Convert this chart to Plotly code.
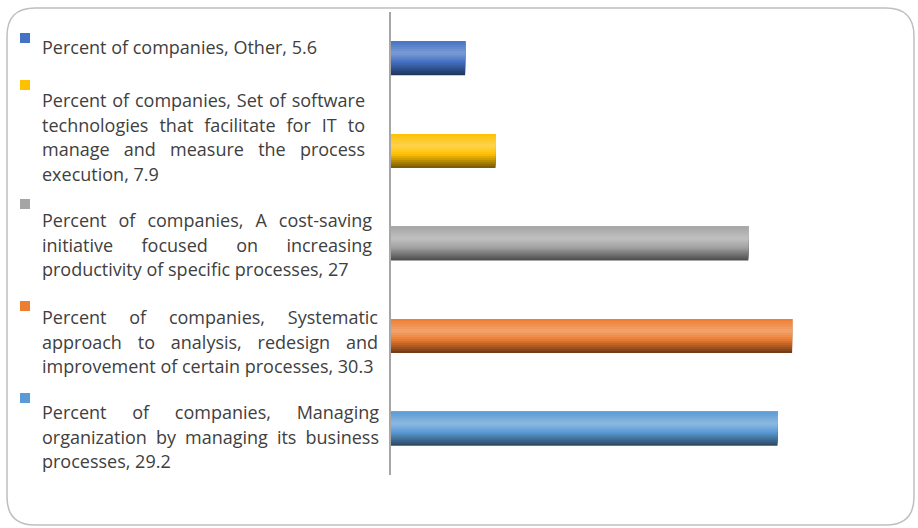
import json
import plotly.graph_objects as go

# data, bottom-to-top order as plotly draws categories
categories = ["Managing", "Systematic", "Cost-saving", "Software", "Other"]
values = [29.2, 30.3, 27, 7.9, 5.6]
colors = ["#5B9BD5", "#ED7D31", "#A5A5A5", "#FFC000", "#4472C4"]

# legend text blocks, top-to-bottom, already broken into lines as in the picture
legend_lines = [
    ["Percent of companies, Other, 5.6"],
    ["Percent of companies, Set of software",
     "technologies that facilitate for IT to",
     "manage and measure the process",
     "execution, 7.9"],
    ["Percent of companies, A cost-saving",
     "initiative focused on increasing",
     "productivity of specific processes, 27"],
    ["Percent of companies, Systematic",
     "approach to analysis, redesign and",
     "improvement of certain processes, 30.3"],
    ["Percent of companies, Managing",
     "organization by managing its business",
     "processes, 29.2"],
]
legend_colors = colors[::-1]

W, H = 918, 528
L, R, T, B = 391, 24, 12, 53
PW, PH = W - L - R, H - T - B
XMAX = 38.0


def px(x):
    return (x - L) / PW


def py(y):
    return (H - B - y) / PH


def mix(c, other, f):
    c = [int(c[i:i + 2], 16) for i in (1, 3, 5)]
    return "rgb(%d,%d,%d)" % tuple(round(a + (b - a) * f) for a, b in zip(c, other))


def shade(c, t):
    # t=0 top of bar, t=1 bottom
    if t < 0.35:
        return mix(c, (255, 255, 255), 0.3 * t / 0.35)
    if t < 0.6:
        return mix(c, (255, 255, 255), 0.3 * (0.6 - t) / 0.25)
    return mix(c, (0, 0, 0), 0.55 * (t - 0.6) / 0.4)


fig = go.Figure()
bw = 0.367
N = 17
step_b = bw / N
for i in range(N):
    # each band reaches to the top of the bar; later bands cover the upper part
    t = 1 - (i + 0.5) / N
    fig.add_trace(go.Bar(
        y=categories, x=values, orientation="h",
        width=bw - i * step_b, offset=-bw / 2 + i * step_b,
        marker=dict(color=[shade(c, t) for c in colors], line=dict(width=0)),
        hoverinfo="skip", showlegend=False,
    ))

shapes = []
annotations = []
justify = {}
first_line = [47, 100, 220, 317, 412]
square_top = [33, 80, 199, 301, 393]
right_edge = [None, 365, 372, 378, 379]
step = 24.5
for k, lines in enumerate(legend_lines):
    shapes.append(dict(type="rect", xref="paper", yref="paper",
                       x0=px(20), x1=px(30), y0=py(square_top[k]), y1=py(square_top[k] + 10),
                       fillcolor=legend_colors[k], line=dict(width=0)))
    for j, line in enumerate(lines):
        annotations.append(dict(text=line, xref="paper", yref="paper",
                                x=px(40), y=py(first_line[k] + j * step),
                                xanchor="left", yanchor="middle", align="left",
                                showarrow=False,
                                font=dict(family="Open Sans", size=18, color="#404040")))
        if right_edge[k] and j < len(lines) - 1:
            justify[line] = right_edge[k] - 42

# rounded outer border
x0, x1, y0, y1, r = 7, 914, 8, 525, 28
path = "M %f,%f L %f,%f Q %f,%f %f,%f L %f,%f Q %f,%f %f,%f L %f,%f Q %f,%f %f,%f L %f,%f Q %f,%f %f,%f Z" % (
    px(x0 + r), py(y0), px(x1 - r), py(y0), px(x1), py(y0), px(x1), py(y0 + r),
    px(x1), py(y1 - r), px(x1), py(y1), px(x1 - r), py(y1),
    px(x0 + r), py(y1), px(x0), py(y1), px(x0), py(y1 - r),
    px(x0), py(y0 + r), px(x0), py(y0), px(x0 + r), py(y0))
shapes.append(dict(type="path", xref="paper", yref="paper", path=path,
                   line=dict(color="#bfbfbf", width=1.5)))

fig.update_layout(
    width=W, height=H, barmode="overlay",
    margin=dict(l=L, r=R, t=T, b=B),
    paper_bgcolor="white", plot_bgcolor="white",
    xaxis=dict(range=[0, XMAX], showgrid=False, zeroline=False, showticklabels=False,
               showline=False, ticks=""),
    yaxis=dict(showgrid=False, zeroline=False, showticklabels=False, ticks="",
               showline=True, linecolor="#a6a6a6", linewidth=2),
    shapes=shapes, annotations=annotations, hovermode=False,
)

post = """
document.body.style.margin = '0';
var gd = document.getElementById('{plot_id}');
var targets = %s;
function justifyText() {
  gd.querySelectorAll('text.annotation-text').forEach(function (t) {
    var s = t.textContent;
    if (!(s in targets)) return;
    t.style.wordSpacing = '0px';
    var cur = t.getComputedTextLength();
    var n = (s.match(/ /g) || []).length;
    if (n > 0) t.style.wordSpacing = ((targets[s] - cur) / n) + 'px';
  });
}
justifyText();
""" % json.dumps(justify)

fig.write_html("out.html", post_script=post, config={"displayModeBar": False})
